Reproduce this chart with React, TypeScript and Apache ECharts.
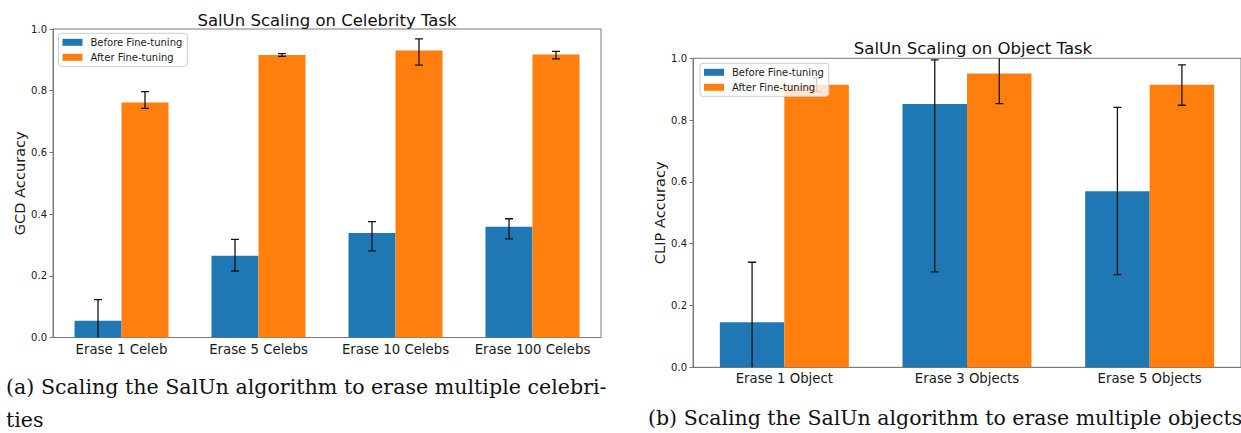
import React, { useEffect, useRef } from "react";
import * as echarts from "echarts";

// ---------- data ----------
const celebCategories = ["Erase 1 Celeb", "Erase 5 Celebs", "Erase 10 Celebs", "Erase 100 Celebs"];
const celebBefore = [0.0545, 0.265, 0.339, 0.359];
const celebBeforeLow = [-0.0135, 0.2155, 0.2805, 0.32];
const celebBeforeHigh = [0.1225, 0.318, 0.3755, 0.385];
const celebAfter = [0.762, 0.916, 0.93, 0.917];
const celebAfterLow = [0.743, 0.9115, 0.883, 0.903];
const celebAfterHigh = [0.797, 0.92, 0.968, 0.9275];

const objectCategories = ["Erase 1 Object", "Erase 3 Objects", "Erase 5 Objects"];
const objectBefore = [0.1455, 0.852, 0.57];
const objectBeforeLow = [-0.049, 0.309, 0.3];
const objectBeforeHigh = [0.34, 0.995, 0.841];
const objectAfter = [0.914, 0.951, 0.914];
const objectAfterLow = [0.892, 0.853, 0.848];
const objectAfterHigh = [0.936, 1.049, 0.979];

const seriesNames = ["Before Fine-tuning", "After Fine-tuning"];
const titles = ["SalUn Scaling on Celebrity Task", "SalUn Scaling on Object Task"];
const yNames = ["GCD Accuracy", "CLIP Accuracy"];
const captionA = ["(a) Scaling the SalUn algorithm to erase multiple celebri-", "ties"];
const captionB = "(b) Scaling the SalUn algorithm to erase multiple objects";

// ---------- styles ----------
const FONT = "DejaVu Sans";
const BLUE = "#1f77b4";
const ORANGE = "#ff7f0e";
const SPINE = "#7a7a7a";
const TEXT = "#1a1a1a";

function errorRenderer(offset: number, cap: number) {
  return (params: any, api: any) => {
    const i = api.value(0);
    const lo = api.coord([i, api.value(1)]);
    const hi = api.coord([i, api.value(2)]);
    const x = lo[0] + offset;
    const style = { stroke: "#141414", lineWidth: 1.3, fill: null };
    return {
      type: "group",
      children: [
        { type: "line", shape: { x1: x, y1: lo[1], x2: x, y2: hi[1] }, style },
        { type: "line", shape: { x1: x - cap, y1: hi[1], x2: x + cap, y2: hi[1] }, style },
        { type: "line", shape: { x1: x - cap, y1: lo[1], x2: x + cap, y2: lo[1] }, style },
      ],
    };
  };
}

function errData(low: number[], high: number[]) {
  return low.map((l, i) => [i, l, high[i]]);
}

function makeAxes(idx: number, cats: string[]) {
  const x = {
    type: "category",
    gridIndex: idx,
    data: cats,
    axisLine: { lineStyle: { color: SPINE, width: 1 } },
    axisTick: { alignWithLabel: true, length: 3.5, lineStyle: { color: SPINE } },
    axisLabel: { fontFamily: FONT, fontSize: 13.3, color: TEXT, margin: 5, interval: 0 },
    splitLine: { show: false },
  };
  const y = {
    type: "value",
    gridIndex: idx,
    min: 0,
    max: 1,
    interval: 0.2,
    name: yNames[idx],
    nameLocation: "middle",
    nameGap: 24,
    nameTextStyle: { fontFamily: FONT, fontSize: 14.6, color: TEXT },
    axisLine: { show: true, lineStyle: { color: SPINE, width: 1 } },
    axisTick: { show: true, length: 3.5, lineStyle: { color: SPINE } },
    axisLabel: {
      fontFamily: FONT,
      fontSize: 10,
      color: TEXT,
      margin: 6,
      formatter: (v: number) => v.toFixed(1),
    },
    splitLine: { show: false },
  };
  return { x, y };
}

function legendFor(left: number, top: number) {
  return {
    orient: "vertical",
    left,
    top,
    z: 10,
    icon: "rect",
    itemWidth: 20,
    itemHeight: 7,
    itemGap: 3,
    padding: [3, 5, 3, 4],
    selectedMode: false,
    backgroundColor: "rgba(255,255,255,0.8)",
    borderColor: "#cccccc",
    borderWidth: 1,
    borderRadius: 3,
    textStyle: { fontFamily: FONT, fontSize: 10, color: TEXT, lineHeight: 12, padding: [0, 0, 0, 3] },
    data: seriesNames,
  };
}

export default function App() {
  const ref = useRef<HTMLDivElement>(null);
  useEffect(() => {
    if (!ref.current) return;
    const chart = echarts.init(ref.current, undefined, { renderer: "svg" });
    const a = makeAxes(0, celebCategories);
    const b = makeAxes(1, objectCategories);
    const wA = 47;
    const wB = 64.5;
    const option: any = {
      animation: false,
      backgroundColor: "#ffffff",
      grid: [
        { left: 53, top: 29, width: 548, height: 308.5, show: true, borderColor: SPINE, borderWidth: 1, backgroundColor: "transparent", containLabel: false },
        { left: 693, top: 58.3, width: 553.5, height: 309, show: true, borderColor: SPINE, borderWidth: 1, backgroundColor: "transparent", containLabel: false },
      ],
      xAxis: [a.x, b.x],
      yAxis: [a.y, b.y],
      legend: [legendFor(58.5, 33.3), legendFor(700, 63.3)],
      series: [
        { type: "bar", name: seriesNames[0], xAxisIndex: 0, yAxisIndex: 0, data: celebBefore, barWidth: wA, barGap: "0%", itemStyle: { color: BLUE } },
        { type: "bar", name: seriesNames[1], xAxisIndex: 0, yAxisIndex: 0, data: celebAfter, barWidth: wA, barGap: "0%", itemStyle: { color: ORANGE } },
        { type: "custom", name: "errA0", xAxisIndex: 0, yAxisIndex: 0, clip: true, z: 3, renderItem: errorRenderer(-wA / 2, 4), encode: { x: 0, y: [1, 2] }, data: errData(celebBeforeLow, celebBeforeHigh) },
        { type: "custom", name: "errA1", xAxisIndex: 0, yAxisIndex: 0, clip: true, z: 3, renderItem: errorRenderer(wA / 2, 4), encode: { x: 0, y: [1, 2] }, data: errData(celebAfterLow, celebAfterHigh) },
        { type: "bar", name: seriesNames[0], xAxisIndex: 1, yAxisIndex: 1, data: objectBefore, barWidth: wB, barGap: "0%", itemStyle: { color: BLUE } },
        { type: "bar", name: seriesNames[1], xAxisIndex: 1, yAxisIndex: 1, data: objectAfter, barWidth: wB, barGap: "0%", itemStyle: { color: ORANGE } },
        { type: "custom", name: "errB0", xAxisIndex: 1, yAxisIndex: 1, clip: true, z: 3, renderItem: errorRenderer(-wB / 2, 4), encode: { x: 0, y: [1, 2] }, data: errData(objectBeforeLow, objectBeforeHigh) },
        { type: "custom", name: "errB1", xAxisIndex: 1, yAxisIndex: 1, clip: true, z: 3, renderItem: errorRenderer(wB / 2, 4), encode: { x: 0, y: [1, 2] }, data: errData(objectAfterLow, objectAfterHigh) },
      ],
      graphic: [
        { type: "text", x: 327, y: 20, style: { text: titles[0], align: "center", verticalAlign: "middle", fontFamily: FONT, fontSize: 16.5, fill: "#111" } },
        { type: "text", x: 973, y: 48.5, style: { text: titles[1], align: "center", verticalAlign: "middle", fontFamily: FONT, fontSize: 16.5, fill: "#111" } },
        { type: "text", x: 6, y: 387, style: { text: captionA[0], align: "left", verticalAlign: "middle", fontFamily: "DejaVu Serif", fontSize: 20.6, fill: "#111" } },
        { type: "text", x: 6, y: 420, style: { text: captionA[1], align: "left", verticalAlign: "middle", fontFamily: "DejaVu Serif", fontSize: 20.6, fill: "#111" } },
        { type: "text", x: 648, y: 418, style: { text: captionB, align: "left", verticalAlign: "middle", fontFamily: "DejaVu Serif", fontSize: 20.5, fill: "#111" } },
      ],
    };
    chart.setOption(option);
    return () => chart.dispose();
  }, []);
  return (
    <div
      ref={ref}
      style={{ position: "absolute", left: 0, top: 0, width: 1241, height: 433, background: "#fff" }}
    />
  );
}
